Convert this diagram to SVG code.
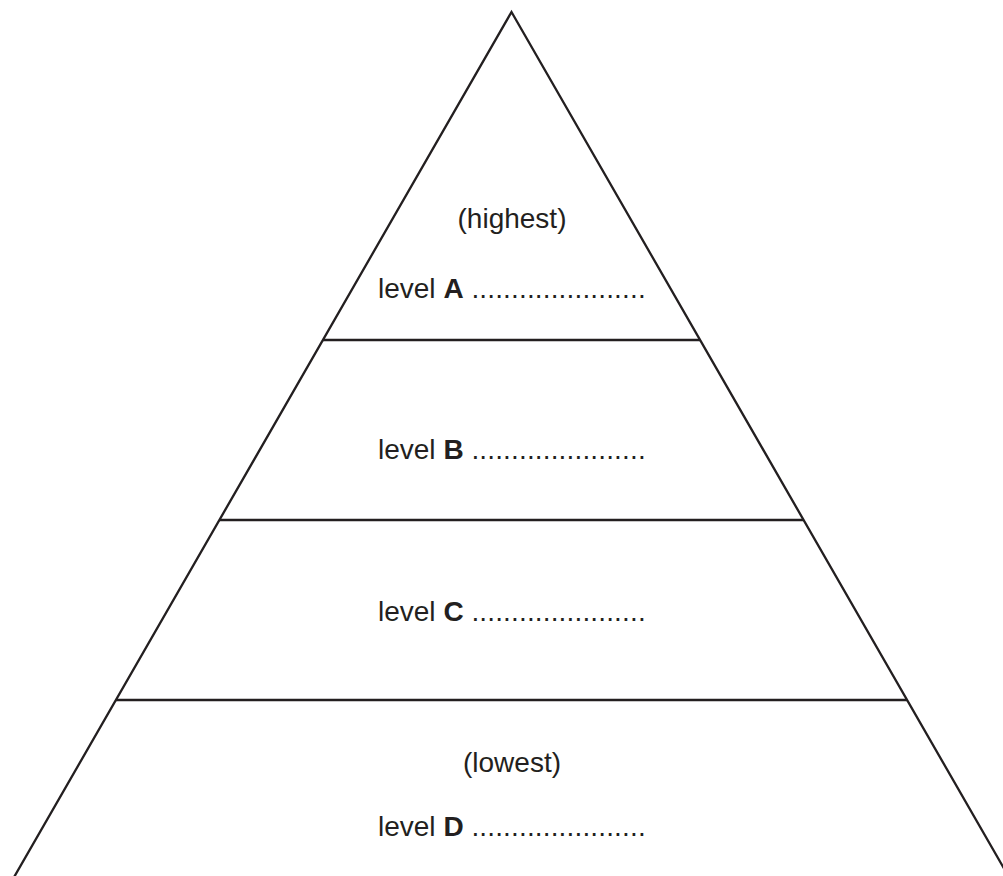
<svg xmlns="http://www.w3.org/2000/svg" width="1003" height="876" viewBox="0 0 1003 876">
<style>
.ln{stroke:#231f20;stroke-width:2.3;fill:none;stroke-linecap:butt}
text{font-family:"Liberation Sans",Arial,sans-serif;font-size:28px;fill:#231f20}
.b{font-weight:bold}
.d{letter-spacing:0.15px}
</style>
<rect width="1003" height="876" fill="#fff"/>
<g id="connectors">
<polyline class="ln" points="12.4,880 511.5,12 1010.6,880" stroke-linejoin="miter"/>
<line class="ln" x1="322.9" y1="340" x2="700.1" y2="340"/>
<line class="ln" x1="219.4" y1="520" x2="803.6" y2="520"/>
<line class="ln" x1="115.9" y1="700" x2="907.1" y2="700"/>
</g>
<g id="levelA">
<text x="512" y="228" text-anchor="middle">(highest)</text>
<text x="378" y="298">level <tspan class="b">A</tspan> <tspan class="d">......................</tspan></text>
</g>
<g id="levelB">
<text x="378" y="459">level <tspan class="b">B</tspan> <tspan class="d">......................</tspan></text>
</g>
<g id="levelC">
<text x="378" y="621">level <tspan class="b">C</tspan> <tspan class="d">......................</tspan></text>
</g>
<g id="levelD">
<text x="512" y="772" text-anchor="middle">(lowest)</text>
<text x="378" y="836">level <tspan class="b">D</tspan> <tspan class="d">......................</tspan></text>
</g>
</svg>
